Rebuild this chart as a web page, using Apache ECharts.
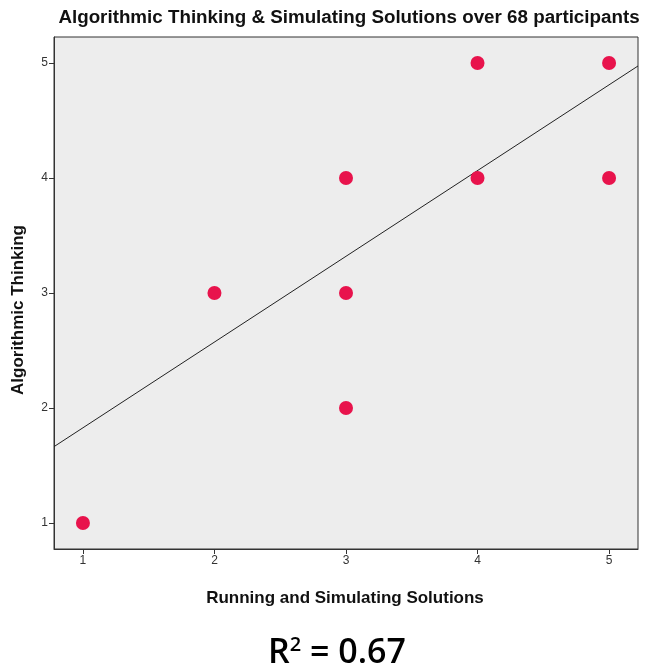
<!DOCTYPE html>
<html>
<head>
<meta charset="utf-8">
<script src="https://cdn.jsdelivr.net/npm/echarts@6/dist/echarts.min.js"></script>
<style>html,body{margin:0;padding:0;background:#fff;}#c{width:661px;height:671px;}</style>
</head>
<body>
<div id="c"></div>
<script>
// Data
const xValues = [1, 2, 3, 3, 3, 4, 4, 5, 5];
const yValues = [1, 3, 4, 3, 2, 5, 4, 5, 4];
const tickValues = [1, 2, 3, 4, 5];
const fitX = [0.78, 5.22];
const fitY = [1.664, 4.974];
const titleText = 'Algorithmic Thinking & Simulating Solutions over 68 participants';
const xName = 'Running and Simulating Solutions';
const yName = 'Algorithmic Thinking';
const r2Value = '0.67';

const chart = echarts.init(document.getElementById('c'), null, {renderer: 'canvas'});
const pts = xValues.map((x, i) => [x, yValues[i]]);
const fit = fitX.map((x, i) => [x, fitY[i]]);

const axisCommon = {
  type: 'value',
  min: 0.78,
  max: 5.22,
  axisLine: {show: true, lineStyle: {color: '#333', width: 1}},
  axisTick: {show: true, length: 5, lineStyle: {color: '#333'}, customValues: tickValues},
  axisLabel: {show: true, color: '#333', fontFamily: 'Liberation Sans, Arial, sans-serif', fontSize: 12, customValues: tickValues, margin: 6},
  splitLine: {show: false}
};

chart.setOption({
  animation: false,
  backgroundColor: '#ffffff',
  grid: {left: 54, top: 37, right: 23, bottom: 122, show: true, backgroundColor: '#ededed', borderColor: '#333', borderWidth: 1},
  xAxis: Object.assign({}, axisCommon),
  yAxis: Object.assign({}, axisCommon, {min: 0.774, max: 5.226}),
  series: [
    {
      type: 'line',
      data: fit,
      symbol: 'none',
      lineStyle: {color: '#222', width: 1},
      silent: true,
      z: 2
    },
    {
      type: 'scatter',
      data: pts,
      symbolSize: 14,
      itemStyle: {color: '#e8134c', opacity: 1},
      z: 3
    }
  ],
  graphic: [
    {
      type: 'text',
      x: 349, y: 18,
      style: {text: titleText, font: 'bold 18.8px "Liberation Sans", Arial, sans-serif', fill: '#111', align: 'center', verticalAlign: 'middle'}
    },
    {
      type: 'text',
      x: 345, y: 598,
      style: {text: xName, font: 'bold 17px "Liberation Sans", Arial, sans-serif', fill: '#111', align: 'center', verticalAlign: 'middle'}
    },
    {
      type: 'text',
      x: 18, y: 310,
      rotation: Math.PI / 2,
      style: {text: yName, font: 'bold 17px "Liberation Sans", Arial, sans-serif', fill: '#111', align: 'center', verticalAlign: 'middle'}
    },
    {
      type: 'text',
      x: 337, y: 653,
      style: {
        text: 'R{sup|2} = ' + r2Value,
        align: 'center', verticalAlign: 'middle',
        font: '600 34px "Open Sans", sans-serif',
        fill: '#000',
        rich: {
          sup: {fontSize: 20, fontFamily: 'Open Sans', fontWeight: 600, verticalAlign: 'top', padding: [0, 0, 16, 0], fill: '#000'}
        }
      }
    }
  ]
});
</script>
</body>
</html>
